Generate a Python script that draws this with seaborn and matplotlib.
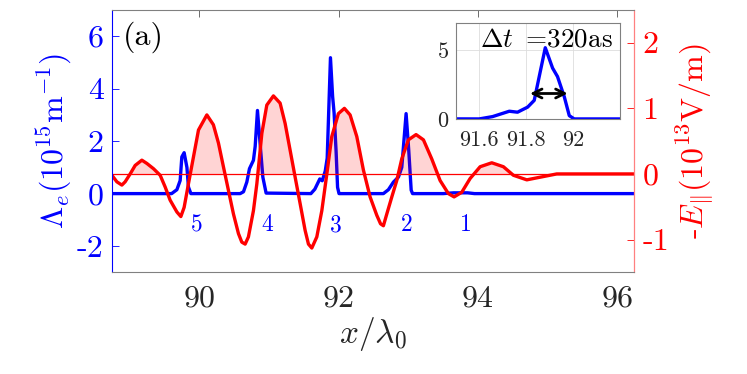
import numpy as np
import matplotlib
matplotlib.use("Agg")
import matplotlib.pyplot as plt
import seaborn as sns

# ---- data ----
# electron line density Lambda_e (10^15 m^-1)
x_n = [88.75, 89.60, 89.676, 89.723, 89.747, 89.78, 89.82, 89.842, 89.877,
       90.584, 90.632, 90.68, 90.718, 90.775, 90.80, 90.833, 90.871, 90.91, 90.957,
       91.60, 91.657, 91.728, 91.763, 91.806, 91.834, 91.881, 91.912, 91.933,
       91.962, 91.983, 92.004,
       92.641, 92.713, 92.785, 92.857, 92.905, 92.967, 93.005, 93.04, 93.06,
       93.50, 93.65, 93.85, 93.95, 96.26]
n_e = [0, 0, 0.15, 0.5, 1.4, 1.56, 1.0, 0.25, 0,
       0, 0.07, 0.44, 0.95, 1.27, 1.8, 3.17, 1.9, 0.63, 0.02,
       0, 0.17, 0.56, 0.49, 0.86, 1.35, 5.18, 3.7, 3.08,
       1.6, 0.24, 0,
       0, 0.15, 0.44, 0.63, 1.0, 3.05, 1.65, 0.13, 0,
       0, 0.03, 0.03, 0, 0]

# longitudinal field -E_par (10^13 V/m)
x_E = [88.743, 88.814, 88.886, 88.933, 89.005, 89.077, 89.173, 89.245, 89.34, 89.436,
       89.508, 89.579, 89.676, 89.733, 89.78, 89.842, 89.914, 89.986, 90.106, 90.20,
       90.273, 90.344, 90.416, 90.488, 90.56, 90.608, 90.656, 90.703, 90.775, 90.824,
       90.896, 90.967, 91.062, 91.158, 91.23, 91.302, 91.374, 91.445, 91.517, 91.565,
       91.613, 91.685, 91.757, 91.829, 91.90, 91.995, 92.081, 92.163, 92.259, 92.354,
       92.45, 92.546, 92.60, 92.641, 92.69, 92.762, 92.833, 92.905, 93.0, 93.11,
       93.216, 93.335, 93.455, 93.574, 93.656, 93.766, 93.886, 94.03, 94.197, 94.364,
       94.507, 94.70, 94.89, 95.13, 95.51, 96.26]
E_par = [-0.02, -0.12, -0.17, -0.12, 0.0, 0.13, 0.21, 0.16, 0.08, -0.02,
         -0.20, -0.40, -0.58, -0.65, -0.51, -0.15, 0.26, 0.67, 0.90, 0.75,
         0.47, 0.11, -0.25, -0.61, -0.91, -1.04, -1.07, -0.96, -0.56, -0.15,
         0.62, 1.05, 1.19, 1.08, 0.77, 0.36, -0.05, -0.45, -0.86, -1.07,
         -1.13, -0.96, -0.56, 0.0, 0.57, 0.92, 1.0, 0.90, 0.57, 0.06,
         -0.35, -0.63, -0.76, -0.79, -0.61, -0.35, -0.10, 0.23, 0.52, 0.60,
         0.52, 0.23, -0.10, -0.30, -0.35, -0.28, -0.07, 0.11, 0.17, 0.11,
         -0.02, -0.09, -0.05, 0.0, 0.0, 0.0]

pulse_labels = ['5', '4', '3', '2', '1']
pulse_x = [89.96, 90.967, 91.962, 92.977, 93.83]
pulse_y = -1.2

x_ticks = [90, 92, 94, 96]
yl_ticks = [-2, 0, 2, 4, 6]
yr_ticks = [-1, 0, 1, 2]
in_xticks = [91.6, 91.8, 92.0]
in_xlabels = ['91.6', '91.8', '92']
in_yticks = [0, 5]
arrow_x = [91.816, 91.976]
arrow_y = 1.85
dt_text = r'$\Delta t\ =\!320\mathrm{as}$'

# ---- style ----
sns.set_style('white')
plt.rcParams['font.family'] = ['cmr10', 'DejaVu Serif']
plt.rcParams['mathtext.fontset'] = 'cm'
plt.rcParams['axes.unicode_minus'] = False

BLUE = '#0000ff'
RED = '#ff0000'
TXT = '#262626'
line_kw = dict(solid_joinstyle='round', solid_capstyle='round')

fig = plt.figure(figsize=(7.47, 3.74), dpi=100)
ax = fig.add_axes([0.150, 0.2719, 0.6988, 0.7014])
ax2 = ax.twinx()

x_E_arr = np.array(x_E)
E_arr = np.array(E_par)

sns.lineplot(x=x_n, y=n_e, ax=ax, color=BLUE, linewidth=2.4, sort=False, **line_kw)
ax2.axhline(0, color=RED, lw=0.9)
ax2.fill_between(x_E_arr, E_arr, 0, where=E_arr > 0, interpolate=True,
                 color=RED, alpha=0.17, lw=0)
sns.lineplot(x=x_E, y=E_par, ax=ax2, color=RED, linewidth=2.4, sort=False, **line_kw)

ax.set_xlim(88.745, 96.24)
ax.set_ylim(-3, 7)
ax2.set_ylim(-1.5, 2.5)

fs = 23
ax.set_xticks(x_ticks)
ax.set_xticklabels([str(t) for t in x_ticks], fontsize=fs, color=TXT)
ax.set_yticks(yl_ticks)
ax.set_yticklabels([str(t) for t in yl_ticks], fontsize=fs, color=BLUE)
ax2.set_yticks(yr_ticks)
ax2.set_yticklabels([str(t) for t in yr_ticks], fontsize=fs, color=RED)

ax.tick_params(axis='x', direction='in', length=5, width=0.6, colors='#555555',
               labelcolor=TXT, top=True, pad=9)
ax.tick_params(axis='y', direction='in', length=5, width=0.6, colors=BLUE,
               labelcolor=BLUE, pad=6)
ax2.tick_params(axis='y', direction='in', length=5, width=0.6, colors=RED,
                labelcolor=RED, pad=6)

for sp in ['top', 'bottom']:
    ax2.spines[sp].set_color('#808080')
    ax2.spines[sp].set_linewidth(0.8)
ax2.spines['left'].set_color(BLUE)
ax2.spines['left'].set_linewidth(0.8)
ax2.spines['right'].set_color('#ff8080')
ax2.spines['right'].set_linewidth(0.9)
for sp in ax.spines.values():
    sp.set_visible(False)

ax.set_xlabel(r'$x/\lambda_0$', fontsize=24, color=TXT, labelpad=2)
ax.set_ylabel(r'$\Lambda_e(10^{15}\mathrm{m}^{-1})$', fontsize=23, color=BLUE, labelpad=2)
ax2.set_ylabel(r'-$E_{\|}(10^{13}\mathrm{V/m})$', fontsize=23, color=RED, labelpad=4)

ax.text(0.02, 0.955, '(a)', transform=ax.transAxes, fontsize=23, color='black',
        ha='left', va='top')
for lab, px in zip(pulse_labels, pulse_x):
    ax.text(px, pulse_y, lab, color=BLUE, fontsize=17, ha='center', va='center')

# ---- inset ----
axi = fig.add_axes([0.610, 0.682, 0.2204, 0.2573])
axi.set_zorder(5)
axi.set_facecolor('white')
sns.lineplot(x=x_n, y=n_e, ax=axi, color=BLUE, linewidth=2.4, sort=False, **line_kw)
axi.set_xlim(91.5, 92.2)
axi.set_ylim(0, 7)
axi.set_xticks(in_xticks)
axi.set_xticklabels(in_xlabels, fontsize=16, color=TXT)
axi.set_yticks(in_yticks)
axi.set_yticklabels([str(t) for t in in_yticks], fontsize=16, color=TXT)
axi.tick_params(axis='x', direction='in', length=3, width=0.5, colors='#555555',
                labelcolor=TXT, pad=8)
axi.tick_params(axis='y', direction='in', length=3, width=0.5, colors='#555555',
                labelcolor=TXT, pad=5)
axi.grid(True, color='#dddddd', lw=0.6)
for sp in axi.spines.values():
    sp.set_color('#808080')
    sp.set_linewidth(0.8)
axi.set_xlabel('')
axi.set_ylabel('')
axi.annotate('', xy=(arrow_x[1], arrow_y), xytext=(arrow_x[0], arrow_y),
             arrowprops=dict(arrowstyle='<->', color='black', lw=2,
                             mutation_scale=16, shrinkA=0, shrinkB=0))
axi.text(91.887, 5.74, dt_text, fontsize=19.5, ha='center', va='center', color='black')

fig.savefig('out.png', dpi=100)
